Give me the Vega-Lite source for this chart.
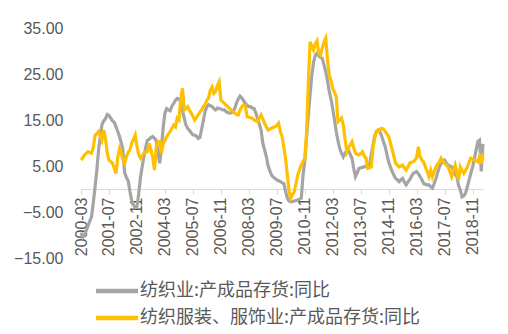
{
"$schema": "https://vega.github.io/schema/vega-lite/v6.json",
"width": 402, "height": 230,
"autosize": {"type": "none"},
"padding": {"left": 81, "top": 28, "right": 25, "bottom": 76},
"background": "white",
"config": {"view": {"stroke": null}, "font": "Liberation Sans"},
"data": {"format": {"parse": {"d": "date:'%Y-%m'"}}, "values": [
{"d":"2000-03","a":-9.5,"b":6.3},{"d":"2000-04","a":-10.5,"b":6.8},{"d":"2000-05","a":-10,"b":7.4},{"d":"2000-06","a":-9,"b":7.8},{"d":"2000-07","a":-8,"b":8.1},{"d":"2000-08","a":-7,"b":7.9},{"d":"2000-09","a":-6,"b":7.8},{"d":"2000-10","a":-3,"b":9},{"d":"2000-11","a":0.5,"b":11.7},{"d":"2000-12","a":4,"b":12},
{"d":"2001-01","a":8.5,"b":12.5},{"d":"2001-02","a":11.5,"b":11.5},{"d":"2001-03","a":14,"b":10.6},{"d":"2001-04","a":14.8,"b":12.8},{"d":"2001-05","a":15.3,"b":11},{"d":"2001-06","a":16.2,"b":7.8},{"d":"2001-07","a":16,"b":6.3},{"d":"2001-08","a":15.4,"b":6},{"d":"2001-09","a":14.8,"b":5.6},{"d":"2001-10","a":14.5,"b":4.5},{"d":"2001-11","a":13.5,"b":3.4},{"d":"2001-12","a":12.5,"b":7},
{"d":"2002-01","a":11.4,"b":8.8},{"d":"2002-02","a":10,"b":7.8},{"d":"2002-03","a":8.5,"b":6.5},{"d":"2002-04","a":3.5,"b":5.6},{"d":"2002-05","a":2.5,"b":7},{"d":"2002-06","a":1.8,"b":8},{"d":"2002-07","a":-0.5,"b":8.5},{"d":"2002-08","a":-2.5,"b":10},{"d":"2002-09","a":-3.5,"b":10.8},{"d":"2002-10","a":-4,"b":11.7},{"d":"2002-11","a":-3.8,"b":9.2},{"d":"2002-12","a":-1,"b":7.5},
{"d":"2003-01","a":2.5,"b":6.7},{"d":"2003-02","a":5,"b":7.2},{"d":"2003-03","a":7,"b":7.8},{"d":"2003-04","a":9,"b":8},{"d":"2003-05","a":10.6,"b":8.1},{"d":"2003-06","a":10.8,"b":9.9},{"d":"2003-07","a":11.2,"b":8.5},{"d":"2003-08","a":11.4,"b":7},{"d":"2003-09","a":11,"b":4.1},{"d":"2003-10","a":10.6,"b":9.2},{"d":"2003-11","a":8,"b":10.3},{"d":"2003-12","a":5.6,"b":10.3},
{"d":"2004-01","a":9,"b":7.8},{"d":"2004-02","a":13.5,"b":9.9},{"d":"2004-03","a":16.5,"b":10.5},{"d":"2004-04","a":17.5,"b":11.4},{"d":"2004-05","a":17.2,"b":12},{"d":"2004-06","a":17,"b":12.5},{"d":"2004-07","a":18,"b":13.2},{"d":"2004-08","a":18.6,"b":13.9},{"d":"2004-09","a":19.3,"b":13.5},{"d":"2004-10","a":19.7,"b":15.4},{"d":"2004-11","a":19.5,"b":15},{"d":"2004-12","a":19,"b":19.5},
{"d":"2005-01","a":17,"b":21.9},{"d":"2005-02","a":15.4,"b":17.2},{"d":"2005-03","a":14,"b":17.5},{"d":"2005-04","a":13.2,"b":17.9},{"d":"2005-05","a":12.8,"b":17.2},{"d":"2005-06","a":12.2,"b":16.5},{"d":"2005-07","a":11.8,"b":15.8},{"d":"2005-08","a":11.7,"b":15},{"d":"2005-09","a":11.5,"b":15.5},{"d":"2005-10","a":11,"b":16.1},{"d":"2005-11","a":11.2,"b":16.7},{"d":"2005-12","a":13,"b":17.2},
{"d":"2006-01","a":15,"b":18},{"d":"2006-02","a":17,"b":18.3},{"d":"2006-03","a":17.8,"b":19.3},{"d":"2006-04","a":18.3,"b":19.8},{"d":"2006-05","a":18.1,"b":21.5},{"d":"2006-06","a":17.9,"b":22.2},{"d":"2006-07","a":17.5,"b":20.8},{"d":"2006-08","a":17.2,"b":21.2},{"d":"2006-09","a":17.6,"b":22.5},{"d":"2006-10","a":17.5,"b":23.3},{"d":"2006-11","a":17.4,"b":19.3},{"d":"2006-12","a":17.2,"b":19},
{"d":"2007-01","a":17.2,"b":18.6},{"d":"2007-02","a":16.8,"b":18.2},{"d":"2007-03","a":16.6,"b":17.9},{"d":"2007-04","a":16.5,"b":17.5},{"d":"2007-05","a":16.6,"b":17.2},{"d":"2007-06","a":16.8,"b":16.8},{"d":"2007-07","a":17.5,"b":16.5},{"d":"2007-08","a":18.8,"b":16.2},{"d":"2007-09","a":19.6,"b":16.1},{"d":"2007-10","a":20.2,"b":17.2},{"d":"2007-11","a":19.8,"b":17.9},{"d":"2007-12","a":19.2,"b":18.3},
{"d":"2008-01","a":18.6,"b":18},{"d":"2008-02","a":18.2,"b":15.7},{"d":"2008-03","a":17.9,"b":15.6},{"d":"2008-04","a":17.9,"b":15.5},{"d":"2008-05","a":17.6,"b":15.4},{"d":"2008-06","a":17.5,"b":15},{"d":"2008-07","a":16.5,"b":14.8},{"d":"2008-08","a":15.4,"b":14.6},{"d":"2008-09","a":14,"b":15.5},{"d":"2008-10","a":12.8,"b":16.1},{"d":"2008-11","a":9.9,"b":15.2},{"d":"2008-12","a":8.5,"b":14.3},
{"d":"2009-01","a":7,"b":13.5},{"d":"2009-02","a":5,"b":12.8},{"d":"2009-03","a":4,"b":13},{"d":"2009-04","a":3,"b":13.2},{"d":"2009-05","a":2.6,"b":13.4},{"d":"2009-06","a":2.3,"b":13.5},{"d":"2009-07","a":2,"b":13.8},{"d":"2009-08","a":1.8,"b":14.3},{"d":"2009-09","a":1.6,"b":12.5},{"d":"2009-10","a":1.4,"b":11.4},{"d":"2009-11","a":1.2,"b":9},{"d":"2009-12","a":-0.5,"b":6.7},
{"d":"2010-01","a":-2,"b":3},{"d":"2010-02","a":-2.6,"b":-0.6},{"d":"2010-03","a":-2.8,"b":-2},{"d":"2010-04","a":-2.7,"b":-1.2},{"d":"2010-05","a":-2.6,"b":-0.6},{"d":"2010-06","a":-2.5,"b":1.2},{"d":"2010-07","a":-2.4,"b":3},{"d":"2010-08","a":-2.2,"b":4.2},{"d":"2010-09","a":-2,"b":5.2},{"d":"2010-10","a":3,"b":6},{"d":"2010-11","a":6,"b":6.7},{"d":"2010-12","a":11,"b":12},
{"d":"2011-01","a":16,"b":23},{"d":"2011-02","a":20.5,"b":32},{"d":"2011-03","a":24.5,"b":31},{"d":"2011-04","a":27.5,"b":30.2},{"d":"2011-05","a":29,"b":31.5},{"d":"2011-06","a":29.5,"b":32.2},{"d":"2011-07","a":29,"b":29.5},{"d":"2011-08","a":28.6,"b":29.1},{"d":"2011-09","a":28.4,"b":30.6},{"d":"2011-10","a":27,"b":32},{"d":"2011-11","a":25.5,"b":32.8},{"d":"2011-12","a":23.5,"b":28},
{"d":"2012-01","a":21.2,"b":24.8},{"d":"2012-02","a":19.5,"b":23.5},{"d":"2012-03","a":17.5,"b":21.9},{"d":"2012-04","a":15,"b":21},{"d":"2012-05","a":12.5,"b":20.1},{"d":"2012-06","a":10.5,"b":14.6},{"d":"2012-07","a":8.8,"b":15},{"d":"2012-08","a":7.8,"b":15.4},{"d":"2012-09","a":7,"b":13.9},{"d":"2012-10","a":7.8,"b":11},{"d":"2012-11","a":8.3,"b":8.1},{"d":"2012-12","a":8.5,"b":9},
{"d":"2013-01","a":7.5,"b":9.6},{"d":"2013-02","a":6.7,"b":10.3},{"d":"2013-03","a":4.5,"b":9},{"d":"2013-04","a":2.7,"b":7.8},{"d":"2013-05","a":3.5,"b":7.5},{"d":"2013-06","a":4.5,"b":7.4},{"d":"2013-07","a":4.6,"b":7.7},{"d":"2013-08","a":4.7,"b":8.1},{"d":"2013-09","a":4.8,"b":7.2},{"d":"2013-10","a":5,"b":6.7},{"d":"2013-11","a":5.1,"b":4.5},{"d":"2013-12","a":5.2,"b":4.6},
{"d":"2014-01","a":7.5,"b":4.8},{"d":"2014-02","a":9.6,"b":9},{"d":"2014-03","a":11.5,"b":11},{"d":"2014-04","a":12.5,"b":12.5},{"d":"2014-05","a":12.8,"b":12.5},{"d":"2014-06","a":12.5,"b":13},{"d":"2014-07","a":11.5,"b":13.2},{"d":"2014-08","a":10.3,"b":13},{"d":"2014-09","a":9.2,"b":12.5},{"d":"2014-10","a":7.5,"b":12},{"d":"2014-11","a":5.8,"b":11.4},{"d":"2014-12","a":4.8,"b":10},
{"d":"2015-01","a":3.8,"b":8.5},{"d":"2015-02","a":3,"b":7},{"d":"2015-03","a":2.3,"b":5.6},{"d":"2015-04","a":2,"b":5.2},{"d":"2015-05","a":1.6,"b":4.8},{"d":"2015-06","a":2,"b":5},{"d":"2015-07","a":2.3,"b":5.2},{"d":"2015-08","a":1.5,"b":4.6},{"d":"2015-09","a":0.9,"b":4.1},{"d":"2015-10","a":1.5,"b":4.8},{"d":"2015-11","a":2,"b":5.6},{"d":"2015-12","a":2.7,"b":5.8},
{"d":"2016-01","a":3.4,"b":5.9},{"d":"2016-02","a":3.6,"b":6.3},{"d":"2016-03","a":3.8,"b":6.8},{"d":"2016-04","a":3.3,"b":9.2},{"d":"2016-05","a":2.7,"b":7},{"d":"2016-06","a":2,"b":6.3},{"d":"2016-07","a":1.2,"b":5.9},{"d":"2016-08","a":1,"b":4.8},{"d":"2016-09","a":0.9,"b":3.8},{"d":"2016-10","a":0.9,"b":2.7},{"d":"2016-11","a":0.5,"b":4.1},{"d":"2016-12","a":0.2,"b":2.7},
{"d":"2017-01","a":1.2,"b":3.8},{"d":"2017-02","a":2.3,"b":4.8},{"d":"2017-03","a":3.5,"b":5.4},{"d":"2017-04","a":4.8,"b":5.9},{"d":"2017-05","a":5.5,"b":6.7},{"d":"2017-06","a":6.2,"b":6},{"d":"2017-07","a":6.3,"b":5.6},{"d":"2017-08","a":5.6,"b":5.2},{"d":"2017-09","a":5.2,"b":4.8},{"d":"2017-10","a":5,"b":3.8},{"d":"2017-11","a":4.8,"b":2.7},{"d":"2017-12","a":4,"b":4},
{"d":"2018-01","a":3.2,"b":5.2},{"d":"2018-02","a":2.7,"b":3.5},{"d":"2018-03","a":0.8,"b":2},{"d":"2018-04","a":-0.2,"b":4.8},{"d":"2018-05","a":-1.7,"b":4},{"d":"2018-06","a":-1.5,"b":3.4},{"d":"2018-07","a":-0.9,"b":4},{"d":"2018-08","a":0.5,"b":4.8},{"d":"2018-09","a":2,"b":5.8},{"d":"2018-10","a":3.4,"b":6.7},{"d":"2018-11","a":4.8,"b":6.5},{"d":"2018-12","a":6.5,"b":6.3},
{"d":"2019-01","a":8.5,"b":6.1},{"d":"2019-02","a":10.3,"b":5.9},{"d":"2019-03","a":10.6,"b":7},{"d":"2019-04","a":3.8,"b":5.5},{"d":"2019-05","a":9.8,"b":7.8}
]},
"transform": [{"fold": ["a", "b"], "as": ["s", "v"]}],
"mark": {"type": "line", "strokeWidth": 3.2},
"encoding": {
"x": {"field": "d", "type": "temporal",
 "scale": {"domain": [{"year": 2000, "month": 3, "date": 1}, {"year": 2019, "month": 5, "date": 1}]},
 "axis": {"title": null, "format": "%Y-%m", "labelAngle": 270, "offset": -69, "grid": false,
  "values": [{"year":2000,"month":3,"date":1},{"year":2001,"month":7,"date":1},{"year":2002,"month":11,"date":1},{"year":2004,"month":3,"date":1},{"year":2005,"month":7,"date":1},{"year":2006,"month":11,"date":1},{"year":2008,"month":3,"date":1},{"year":2009,"month":7,"date":1},{"year":2010,"month":11,"date":1},{"year":2012,"month":3,"date":1},{"year":2013,"month":7,"date":1},{"year":2014,"month":11,"date":1},{"year":2016,"month":3,"date":1},{"year":2017,"month":7,"date":1},{"year":2018,"month":11,"date":1}],
  "domainColor": "#D9D9D9", "tickColor": "#D9D9D9", "tickSize": 5, "labelColor": "#595959", "labelFontSize": 16, "labelPadding": 3, "labelOverlap": false, "labelFlush": false}},
"y": {"field": "v", "type": "quantitative",
 "scale": {"domain": [-15, 35], "nice": false, "zero": false},
 "axis": {"title": null, "values": [-15, -5, 5, 15, 25, 35], "format": ".2f", "domain": false, "ticks": false, "grid": false, "labelColor": "#595959", "labelFontSize": 16, "labelPadding": 18}},
"color": {"field": "s", "type": "nominal",
 "scale": {"domain": ["a", "b"], "range": ["#A5A5A5", "#FFC000"]},
 "legend": {"title": null, "orient": "none", "legendX": 23, "legendY": 250, "direction": "vertical",
  "symbolType": "M-2,0L2,0", "symbolSize": 441, "symbolStrokeWidth": 4.5, "labelFontSize": 18, "labelFont": "Noto Sans CJK SC",
  "labelColor": "#595959", "rowPadding": 5, "labelOffset": 10, "padding": 0, "labelLimit": 400,
  "labelExpr": "datum.label == 'a' ? '纺织业:产成品存货:同比' : '纺织服装、服饰业:产成品存货:同比'"}}
}
}
